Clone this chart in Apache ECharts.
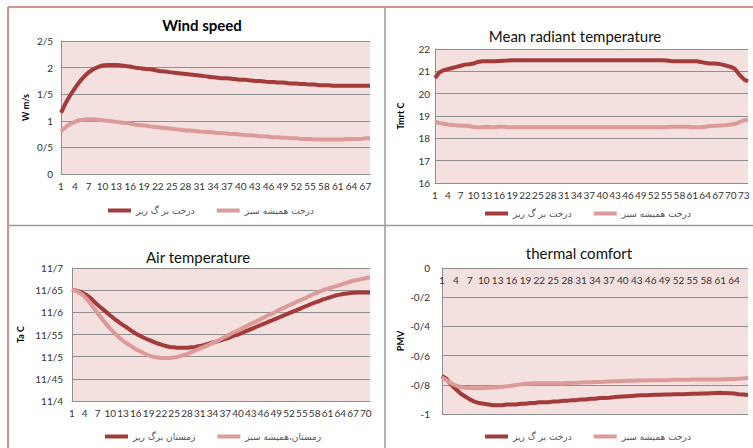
<!DOCTYPE html>
<html><head><meta charset="utf-8">
<script src="https://cdn.jsdelivr.net/npm/echarts@6/dist/echarts.min.js"></script>
<style>html,body{margin:0;padding:0;background:#fff}#c{width:753px;height:448px}</style>
</head><body><div id="c"></div>
<script>
// ---------- DATA ----------
const windCats = Array.from({length: 68}, (_, i) => String(i + 1));
const windDeciduous = [1.15,1.33,1.48,1.61,1.73,1.83,1.91,1.97,2.01,2.04,2.05,2.05,2.05,2.04,2.03,2.02,2.00,1.99,1.98,1.97,1.96,1.94,1.93,1.92,1.91,1.90,1.89,1.88,1.87,1.86,1.85,1.84,1.83,1.82,1.81,1.80,1.80,1.79,1.78,1.77,1.77,1.76,1.75,1.75,1.74,1.73,1.73,1.72,1.72,1.71,1.70,1.70,1.69,1.69,1.68,1.68,1.67,1.67,1.67,1.66,1.66,1.66,1.66,1.66,1.66,1.66,1.66,1.66];
const windEvergreen = [0.80,0.88,0.94,0.98,1.01,1.02,1.03,1.03,1.02,1.01,1.00,0.99,0.98,0.97,0.96,0.95,0.93,0.92,0.91,0.90,0.89,0.88,0.87,0.86,0.85,0.84,0.83,0.82,0.82,0.81,0.80,0.79,0.79,0.78,0.77,0.77,0.76,0.75,0.75,0.74,0.73,0.73,0.72,0.71,0.71,0.70,0.69,0.69,0.68,0.68,0.67,0.67,0.66,0.66,0.66,0.65,0.65,0.65,0.65,0.65,0.65,0.65,0.66,0.66,0.66,0.66,0.67,0.67];

const mrtCats = Array.from({length: 74}, (_, i) => String(i + 1));
const mrtDeciduous = [20.7,20.95,21.05,21.1,21.15,21.2,21.25,21.3,21.32,21.35,21.42,21.45,21.45,21.45,21.45,21.46,21.47,21.48,21.5,21.5,21.5,21.5,21.5,21.5,21.5,21.5,21.5,21.5,21.5,21.5,21.5,21.5,21.5,21.5,21.5,21.5,21.5,21.5,21.5,21.5,21.5,21.5,21.5,21.5,21.5,21.5,21.5,21.5,21.5,21.5,21.5,21.5,21.5,21.5,21.48,21.46,21.45,21.45,21.45,21.45,21.45,21.45,21.42,21.38,21.35,21.35,21.34,21.3,21.25,21.2,21.1,20.85,20.65,20.55];
const mrtEvergreen = [18.75,18.68,18.65,18.62,18.6,18.58,18.57,18.56,18.55,18.5,18.5,18.5,18.52,18.5,18.5,18.52,18.52,18.5,18.5,18.5,18.5,18.5,18.5,18.5,18.5,18.5,18.5,18.5,18.5,18.5,18.5,18.5,18.5,18.5,18.5,18.5,18.5,18.5,18.5,18.5,18.5,18.5,18.5,18.5,18.5,18.5,18.5,18.5,18.5,18.5,18.5,18.5,18.5,18.5,18.5,18.52,18.52,18.52,18.52,18.52,18.5,18.5,18.5,18.52,18.55,18.55,18.57,18.58,18.6,18.62,18.65,18.72,18.8,18.83];

const airCats = Array.from({length: 71}, (_, i) => String(i + 1));
const airDeciduous = [11.651,11.649,11.646,11.641,11.635,11.626,11.617,11.609,11.601,11.593,11.585,11.578,11.571,11.565,11.558,11.552,11.547,11.542,11.538,11.534,11.530,11.527,11.524,11.522,11.521,11.520,11.520,11.520,11.521,11.522,11.524,11.526,11.529,11.532,11.534,11.537,11.540,11.543,11.547,11.550,11.554,11.558,11.562,11.566,11.570,11.574,11.578,11.582,11.586,11.590,11.594,11.598,11.602,11.606,11.610,11.614,11.618,11.622,11.625,11.629,11.632,11.635,11.638,11.640,11.642,11.643,11.644,11.645,11.645,11.645,11.644];
const airEvergreen = [11.651,11.648,11.643,11.635,11.624,11.611,11.598,11.586,11.574,11.563,11.553,11.544,11.536,11.529,11.523,11.517,11.512,11.507,11.503,11.500,11.498,11.497,11.497,11.497,11.498,11.500,11.503,11.506,11.510,11.514,11.518,11.522,11.526,11.531,11.535,11.540,11.545,11.550,11.555,11.559,11.564,11.569,11.574,11.578,11.583,11.588,11.593,11.597,11.602,11.607,11.611,11.616,11.620,11.625,11.629,11.633,11.638,11.642,11.646,11.650,11.653,11.656,11.659,11.662,11.665,11.668,11.671,11.673,11.675,11.677,11.679];

const pmvCats = Array.from({length: 67}, (_, i) => String(i + 1));
const pmvDeciduous = [-0.74,-0.76,-0.80,-0.83,-0.86,-0.88,-0.90,-0.915,-0.925,-0.93,-0.935,-0.94,-0.94,-0.94,-0.935,-0.935,-0.935,-0.93,-0.93,-0.925,-0.925,-0.92,-0.92,-0.92,-0.915,-0.915,-0.91,-0.91,-0.905,-0.905,-0.90,-0.90,-0.895,-0.895,-0.89,-0.89,-0.888,-0.885,-0.882,-0.88,-0.878,-0.876,-0.874,-0.872,-0.871,-0.87,-0.869,-0.868,-0.867,-0.866,-0.865,-0.865,-0.864,-0.863,-0.862,-0.861,-0.86,-0.86,-0.858,-0.856,-0.855,-0.857,-0.858,-0.86,-0.864,-0.867,-0.87];
const pmvEvergreen = [-0.75,-0.77,-0.79,-0.805,-0.815,-0.82,-0.822,-0.823,-0.823,-0.822,-0.82,-0.818,-0.816,-0.813,-0.81,-0.806,-0.801,-0.797,-0.793,-0.791,-0.79,-0.79,-0.79,-0.79,-0.79,-0.79,-0.789,-0.788,-0.787,-0.786,-0.784,-0.783,-0.782,-0.781,-0.78,-0.779,-0.777,-0.776,-0.775,-0.774,-0.773,-0.772,-0.771,-0.77,-0.77,-0.769,-0.769,-0.768,-0.768,-0.767,-0.766,-0.766,-0.765,-0.765,-0.764,-0.764,-0.763,-0.763,-0.763,-0.763,-0.763,-0.762,-0.761,-0.76,-0.758,-0.756,-0.754];

const nameDec = 'درخت بر گ ریز';
const nameEver = 'درخت همیشه سبز';
const nameWinterDec = 'زمستان برگ ریز';
const nameWinterEver = 'زمستان،همیشه سبز';

// ---------- STYLE ----------
const DARK = '#a33b3b', LIGHT = '#dc9a98', PLOT_BG = '#f3e0df', GRIDC = '#8f8f8f';
const LAB = {fontFamily: 'Lato, "Liberation Sans", sans-serif', fontSize: 10, color: '#333'};
const fmt = v => String(+(+v).toFixed(2)).replace('.', '/');

const grids = [
  {left: 61, top: 41, width: 309, height: 133},
  {left: 435, top: 49, width: 313, height: 134},
  {left: 72, top: 268, width: 298, height: 133},
  {left: 442, top: 268, width: 306, height: 146}
];
const cats = [windCats, mrtCats, airCats, pmvCats];
const yCfg = [
  {min: 0, max: 2.5, interval: 0.5, name: 'W m/s', gap: 31, lm: 8},
  {min: 16, max: 22, interval: 1, name: 'Tmrt C', gap: 30, lm: 5},
  {min: 11.4, max: 11.7, interval: 0.05, name: 'Ta C', gap: 47, lm: 9},
  {min: -1, max: 0, interval: 0.2, name: 'PMV', gap: 37, lm: 12}
];

const option = {
  animation: false,
  grid: grids.map(g => Object.assign({show: true, backgroundColor: PLOT_BG, borderWidth: 0}, g)),
  xAxis: cats.map((c, i) => ({
    type: 'category', gridIndex: i, data: c, boundaryGap: false,
    position: i === 3 ? 'top' : 'bottom',
    axisLine: {show: true, onZero: false, lineStyle: {color: GRIDC, width: 1}},
    axisTick: {show: false},
    axisLabel: Object.assign({interval: 2, margin: 7, inside: i === 3, showMaxLabel: i === 3 ? false : null}, LAB)
  })),
  yAxis: yCfg.map((y, i) => ({
    type: 'value', gridIndex: i, min: y.min, max: y.max, interval: y.interval,
    name: y.name, nameLocation: 'middle', nameGap: y.gap, nameRotate: 90,
    nameTextStyle: {fontFamily: 'Lato, sans-serif', fontSize: 9, fontWeight: 'bold', color: '#000'},
    axisLine: {show: true, lineStyle: {color: GRIDC, width: 1}},
    axisTick: {show: false},
    splitLine: {show: true, lineStyle: {color: GRIDC, width: 1}},
    axisLabel: Object.assign({margin: y.lm, formatter: fmt}, LAB)
  })),
  legend: [
    {left: 108, top: 206, data: [nameDec, nameEver]},
    {left: 485, top: 209, data: [nameDec, nameEver]},
    {left: 105, top: 432, data: [nameWinterDec, nameWinterEver]},
    {left: 485, top: 432, data: [nameDec, nameEver]}
  ].map((l, i) => Object.assign({
    icon: 'rect', itemWidth: 23, itemHeight: 4, itemGap: 22,
    textStyle: {fontFamily: '"DejaVu Sans", sans-serif', fontSize: 9, color: '#555'},
    padding: 0
  }, l)),
  series: [
    [windDeciduous, 0, true, nameDec, DARK], [windEvergreen, 0, true, nameEver, LIGHT],
    [mrtDeciduous, 1, false, nameDec, DARK], [mrtEvergreen, 1, false, nameEver, LIGHT],
    [airDeciduous, 2, true, nameWinterDec, DARK], [airEvergreen, 2, true, nameWinterEver, LIGHT],
    [pmvDeciduous, 3, false, nameDec, DARK], [pmvEvergreen, 3, false, nameEver, LIGHT]
  ].map(s => ({
    type: 'line', name: s[3], data: s[0], xAxisIndex: s[1], yAxisIndex: s[1],
    smooth: s[2] ? 0.3 : false, showSymbol: false, symbol: 'none',
    color: s[4], lineStyle: {color: s[4], width: 4}
  })),
  graphic: [
    {type: 'line', shape: {x1: 8, y1: 7, x2: 753, y2: 7}, style: {stroke: '#d88f8f', lineWidth: 2}},
    {type: 'line', shape: {x1: 8, y1: 7, x2: 8, y2: 448}, style: {stroke: '#d88f8f', lineWidth: 2}},
    {type: 'line', shape: {x1: 385, y1: 8, x2: 385, y2: 448}, style: {stroke: '#9a9a9a', lineWidth: 1.5}},
    {type: 'line', shape: {x1: 9, y1: 225.5, x2: 753, y2: 225.5}, style: {stroke: '#9a9a9a', lineWidth: 1.5}},
    {type: 'text', x: 202, y: 25, style: {text: 'Wind speed', fontFamily: 'Lato, sans-serif', fontSize: 15, fontWeight: 'bold', fill: '#000', align: 'center', verticalAlign: 'middle'}},
    {type: 'text', x: 575, y: 36, style: {text: 'Mean radiant temperature', fontFamily: 'Lato, sans-serif', fontSize: 15, fill: '#111', align: 'center', verticalAlign: 'middle'}},
    {type: 'text', x: 198, y: 257, style: {text: 'Air temperature', fontFamily: 'Lato, sans-serif', fontSize: 15, fill: '#111', align: 'center', verticalAlign: 'middle'}},
    {type: 'text', x: 579, y: 253, style: {text: 'thermal comfort', fontFamily: 'Lato, sans-serif', fontSize: 15, fill: '#111', align: 'center', verticalAlign: 'middle'}}
  ]
};
const chart = echarts.init(document.getElementById('c'), null, {renderer: 'svg'});
chart.setOption(option);
</script></body></html>
